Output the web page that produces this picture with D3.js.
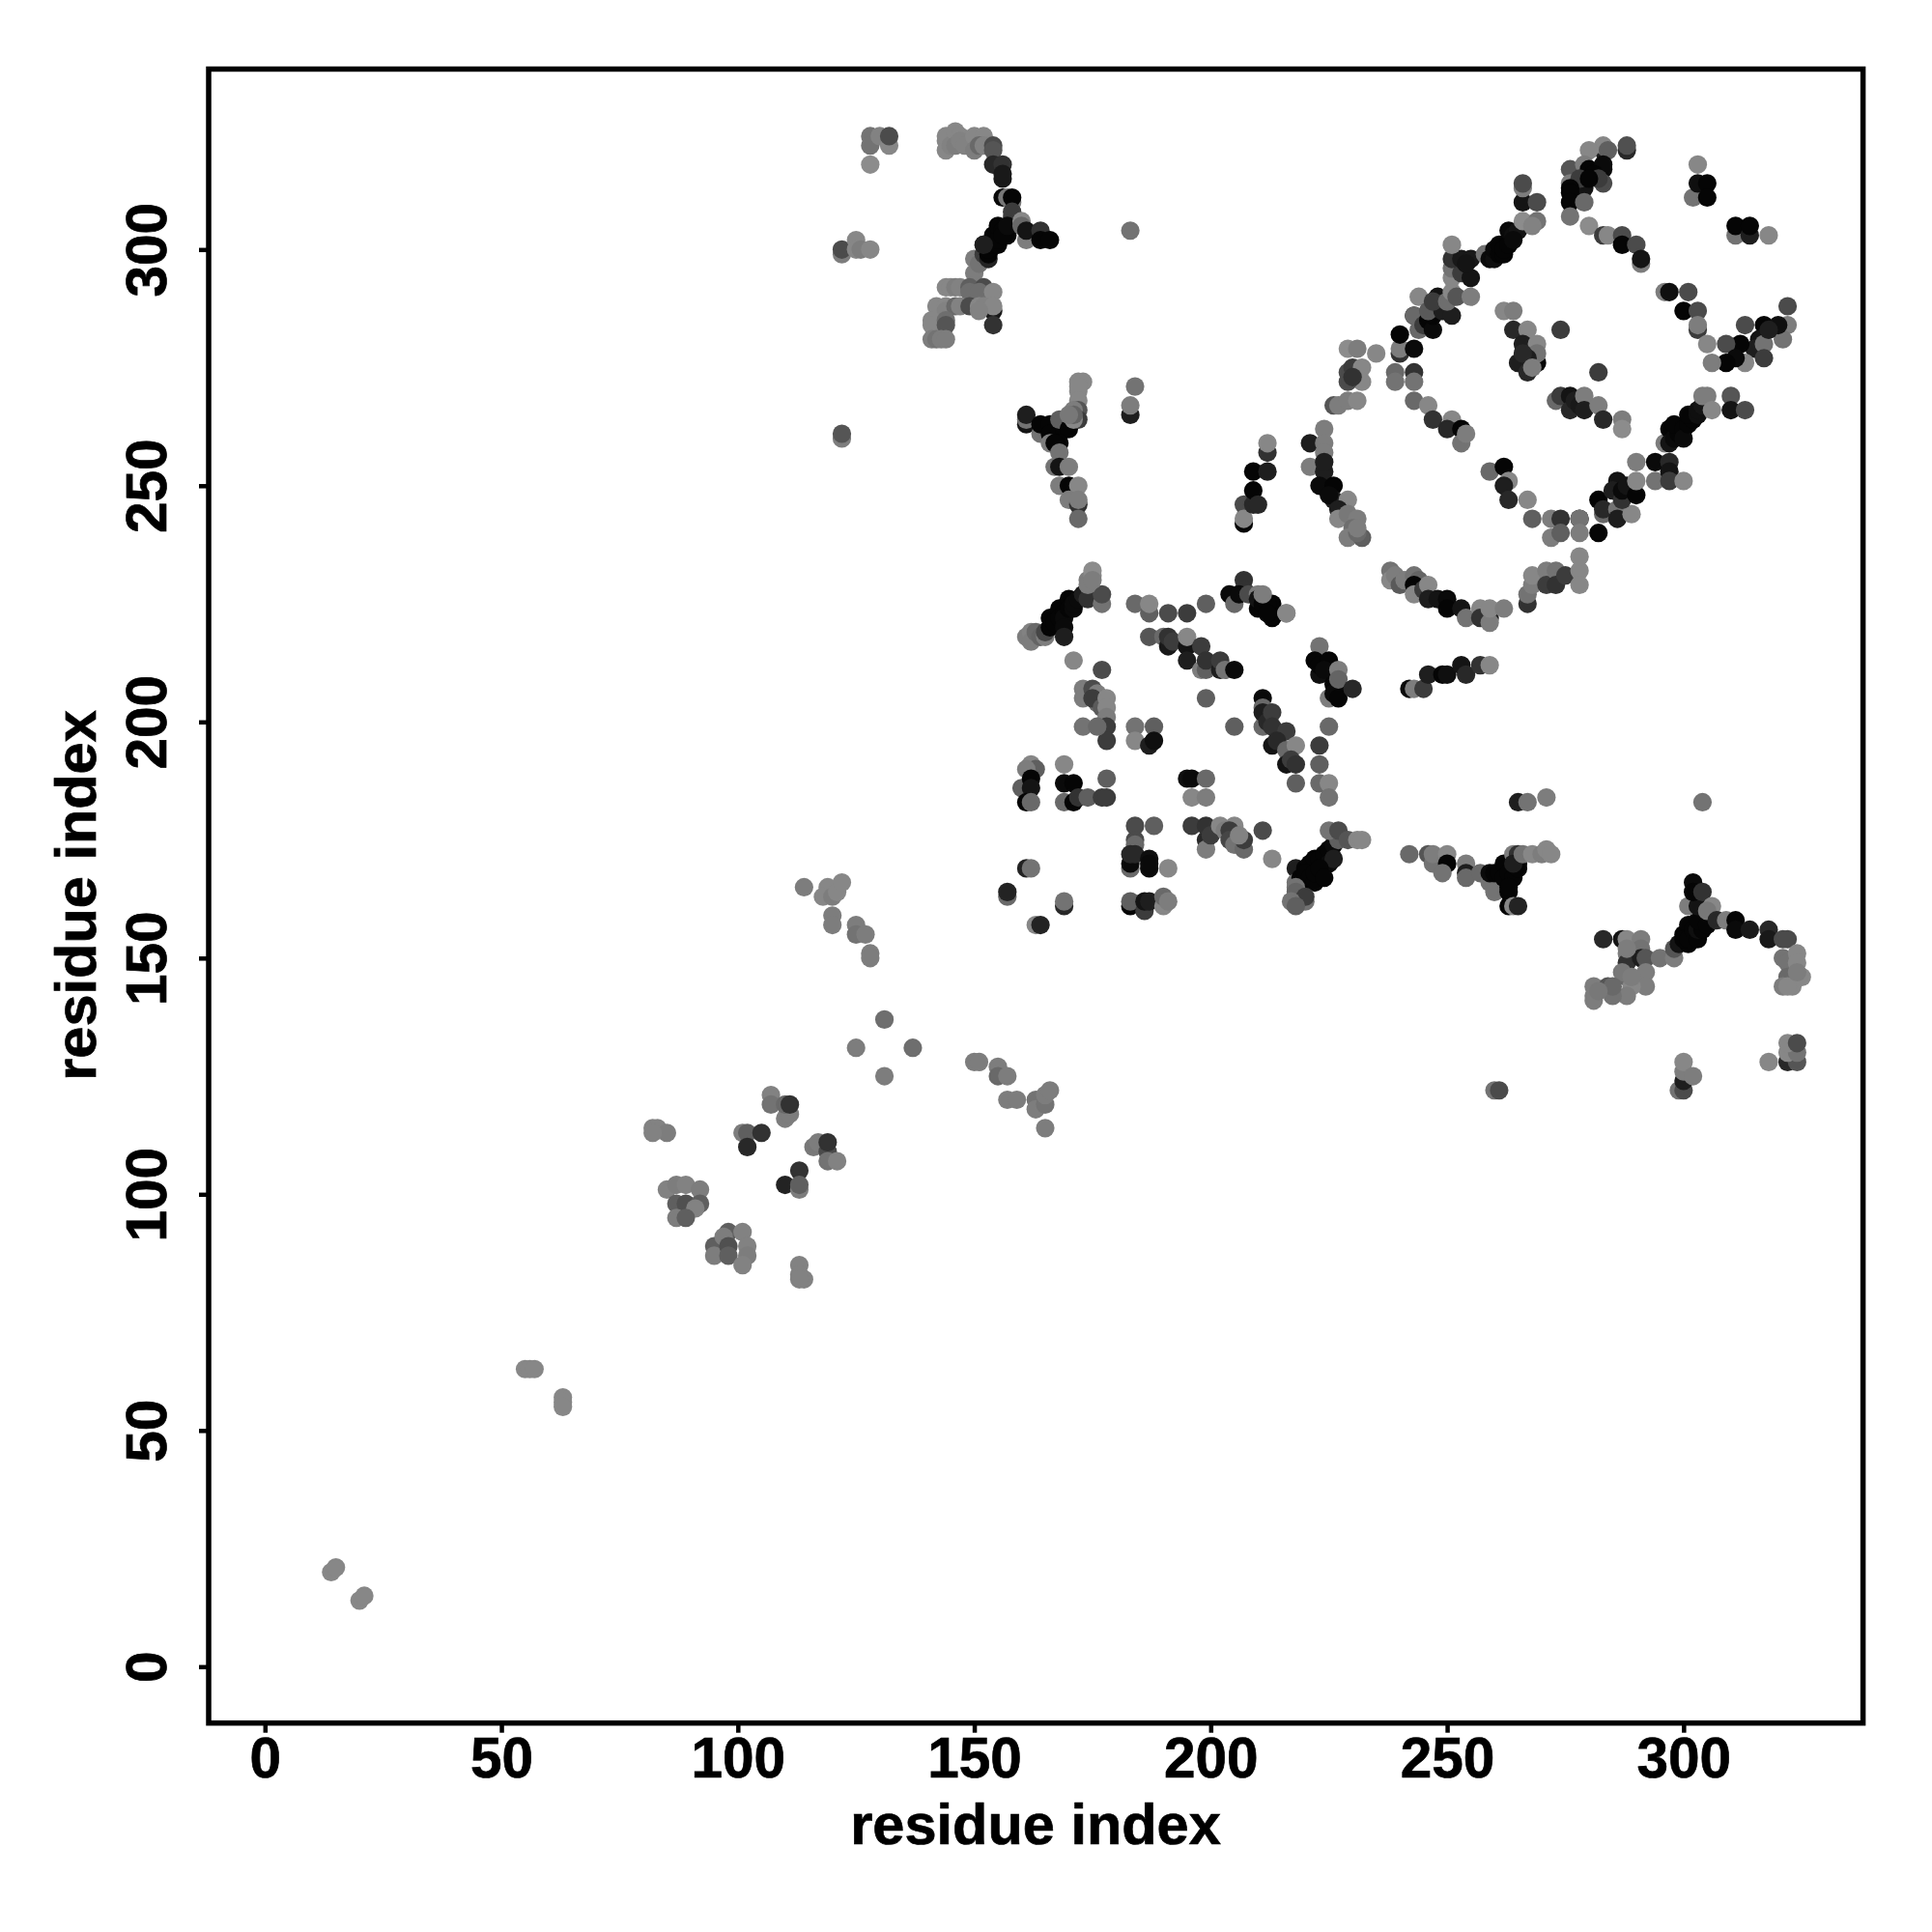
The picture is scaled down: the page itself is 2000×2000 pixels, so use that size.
<!DOCTYPE html>
<html>
<head>
<meta charset="utf-8">
<script src="https://cdn.jsdelivr.net/npm/d3@7"></script>
<style>
html,body{margin:0;padding:0;background:#fff}
svg{display:block}
text{font-family:"Liberation Sans",Arial,sans-serif;font-weight:700;fill:#000;stroke:#000;stroke-width:0.7px}
</style>
</head>
<body>
<div id="chart"></div>
<script>
// Each row: residue index on x, residue index on y, grey level of the point
const xTicks = [0,50,100,150,200,250,300];
const yTicks = [0,50,100,150,200,250,300];
const xLabel = "residue index";
const yLabel = "residue index";

const contactsLow = [[14,20,135],[15,21,135],[20,14,135],[21,15,135],[55,63,135],[56,63,135],[57,63,135],[63,57,135],[63,56,135],[63,55,135]];

const contactsNearDiagonal = [
[82,114,130],[83,114,130],[85,113,125],[82,113,130],
[85,101,130],[87,102,125],[89,102,130],[92,101,125],[87,98,95],[89,98,80],[92,98,95],[91,97,130],[87,95,125],[89,95,95],
[95,89,95],[95,87,125],[98,92,95],[101,92,130],[97,91,125],[98,89,80],[98,87,95],[102,89,130],[102,87,125],[101,85,130],
[113,85,130],[113,83,130],[114,82,130],[113,82,130],
[101,113,125],[102,113,95],[105,113,50],[102,110,40],
[107,121,130],[107,119,115],[110,116,125],[111,117,125],[110,119,105],[111,119,50],
[116,110,120],[117,111,125],[119,109,75],[119,111,50],[119,107,115],[121,107,130],
[110,102,35],[113,105,50],[113,101,125],[113,102,95],
[114,165,125],[119,165,135],[118,163,135],[120,163,125],[121,164,135],[122,166,135],[120,159,125],[120,157,125],[125,157,125],[125,155,115],[127,155,125],[128,151,125],[128,150,125],
[131,137,110],[125,131,125],[137,131,110],[131,125,125],
[150,128,125],[151,128,125],[155,127,125],[155,125,105],[157,125,125],[157,120,125],[159,120,125],[163,120,115],[163,118,125],[165,119,115],[165,121,125],[166,122,125],[165,114,125]
];

const contactsTopLeft = [
[128,324,115],[128,322,115],[130,324,130],[132,322,135],[132,324,75],[128,318,140],
[144,323,135],[144,324,135],[144,321,135],[145,322,130],[146,325,135],[146,322,125],[147,324,135],[147,323,130],[148,322,130],[150,324,135],[150,321,125],[152,324,135],[151,322,105],[152,322,130],[154,322,75],[154,321,85],
[154,318,40],[156,318,50],[156,315,25],[156,316,25],[156,311,10],[157,311,120],[158,310,120],[158,311,5],[158,307,60],[158,308,60],
[150,298,125],[150,295,125],[151,297,115],[152,299,60],[152,301,60],[153,298,35],[153,299,5],[153,300,5],[154,303,5],[154,301,5],[155,301,5],[155,302,5],[155,305,5],[156,304,5],[157,303,5],[156,303,5],[157,305,10],[152,301,30],
[160,306,135],[160,305,105],[161,302,125],[161,304,20],[164,304,50],[164,302,5],[166,302,5],
[122,299,125],[122,300,75],[125,302,135],[125,300,135],[126,300,125],[128,300,135],
[183,304,115],
[144,292,135],[145,292,135],[146,292,125],[147,292,130],[149,292,95],[149,291,110],[152,292,75],[151,291,110],[154,291,135],
[142,288,135],[144,288,135],[144,287,130],[146,288,105],[147,288,130],[149,288,75],[151,288,135],[152,288,130],[154,287,25],[154,284,50],[154,288,135],[151,287,130],
[141,285,135],[141,284,135],[144,285,110],[144,284,85],[141,281,125],[142,281,115],[143,281,125],[144,281,125]
];

const contactsMidLeft = [
[122,260,125],[122,261,85],[161,263,20],[161,264,115],[161,265,30],[164,261,115],[164,263,5],[166,263,5],[166,261,5],[167,260,5],[168,261,5],[169,262,5],[170,263,5],[168,264,95],[170,262,5],[166,259,125],[168,259,5],[167,259,5],
[172,272,135],[173,272,135],[172,270,135],[172,271,135],[172,268,135],[172,266,85],[171,266,125],[172,264,60],[171,264,135],[171,265,100],[170,265,120],
[168,257,115],[167,254,115],[168,254,20],[170,254,125],[168,250,125],[170,250,5],[172,250,135],[170,247,125],[172,246,50],[172,247,125],[172,243,105],
[183,265,30],[183,267,125],[184,271,115],
[161,218,125],[162,219,130],[162,217,125],[163,219,105],[164,218,100],[165,218,125],[165,219,70],[166,220,5],[166,222,5],[167,221,5],[168,224,5],[168,222,5],[169,223,5],[169,222,10],[169,220,10],[169,218,30],[170,226,5],[170,224,5],[171,224,10],[171,225,10],[172,226,10],[173,227,30],[174,226,50],[177,225,115],[177,227,75],[174,230,125],[175,231,135],[175,232,140],[174,229,125],[175,230,125],
[184,225,105],[187,223,95],[187,225,135],[191,223,75],[195,223,60],[199,225,95],
[171,213,135],[177,211,75],
[173,207,125],[173,205,125],[175,207,75],[176,206,125],[176,204,105],[175,205,60],[177,203,90],[178,205,135],[178,203,135],[178,201,125],[178,199,60],[178,196,60],[173,199,115],[176,199,105],
[184,199,115],[188,199,95],[184,196,135],[187,195,30],[188,196,15],
[162,191,135],[163,190,95],[161,190,125],[160,186,95],[162,188,5],[162,186,20],[161,183,5],[162,183,105],
[169,191,135],[169,187,10],[171,187,5],[169,183,105],[171,183,5],[172,184,50],[174,184,95],[177,184,60],[178,184,60],[178,188,95],
[195,188,15],[196,188,10],[199,188,105],[196,184,135],[199,184,125],
[184,178,75],[184,175,75],[188,178,95],[184,174,105],[183,169,105],[183,170,10],[183,172,40],[184,172,40],[187,171,15],[187,169,10],[187,170,10],[191,169,135],
[196,178,60],[199,175,40],[199,178,50],[199,173,125],[200,176,60],[202,178,135],[203,177,125],[205,178,135],[204,177,60],[204,175,70],[205,174,115],[207,173,105],[207,175,60],[206,176,130],[211,177,75],[213,171,135],
[161,169,35],[162,169,115],[157,163,105],[157,164,35],[169,161,40],[169,162,115],[163,157,135],[164,157,35],
[183,161,5],[183,162,95],[186,160,60],[186,162,20],[187,162,30],[190,161,135],[190,163,105],[191,162,125]
];

const contactsCentre = [
[187,218,85],[190,218,105],[191,216,25],[191,218,50],[192,217,60],[195,216,20],[195,218,135],[198,216,60],[195,213,30],[198,211,125],[199,211,95],[199,213,50],[202,211,30],[202,213,60],[203,211,115],[205,211,10],
[199,205,95],[205,199,95],
[211,199,105],[211,205,10],[211,203,105],[211,202,30],[212,200,40],[213,202,60],[213,199,50],[216,198,60],[213,195,20],[214,196,40],[216,194,105],[218,195,135],[216,191,20],[217,192,60],[218,191,50],[218,187,95],
[225,199,105],[223,195,60],[223,191,95],[223,187,105],[225,187,135],[225,184,115],
[207,230,50],[207,228,50],[204,227,10],[205,225,105],[206,227,10],[208,227,75],[210,227,125],[210,224,5],[210,226,20],[211,225,5],[213,225,5],[213,222,5],[212,223,5],[216,223,115],
[223,216,115],[222,213,5],[223,210,15],[223,212,5],[225,213,5],[224,211,10],[225,205,125],[226,208,5],[226,206,10],[227,207,10],[227,205,5],[227,211,125],[227,209,100],[230,207,40],
[218,169,30],[220,169,5],[221,170,5],[222,171,5],[223,171,5],[224,172,5],[225,173,5],[225,170,10],[226,174,10],[226,171,30],[227,175,95],[225,177,115],[227,177,75],[229,175,85],[231,175,135],[232,175,135],
[218,166,115],[219,167,5],[220,166,5],[220,168,5],[221,167,5],[222,166,5],[222,168,5],[223,169,5],[224,167,5],[218,165,115],[218,163,105],[218,164,100],[220,162,115],[220,163,60],[217,162,115],[218,161,95]
];

const contactsUpperArc = [
[207,246,75],[207,242,5],[207,243,135],[209,246,40],[209,249,5],[209,253,5],[210,246,40],[212,253,30],[212,257,50],[212,259,135],
[221,259,30],[224,262,125],[224,259,125],[224,257,125],[221,254,125],[224,253,30],[224,255,30],[223,250,10],[226,250,5],[226,247,30],[225,248,10],[229,247,135],[227,245,30],[227,243,135],[229,244,120],[231,243,125],[230,241,110],[229,239,125],[232,239,95],[231,240,105],[231,241,125],
[229,279,140],[231,279,125],[235,278,135],[229,274,75],[230,275,60],[232,275,135],[232,272,135],[229,272,75],[230,273,50],
[226,267,85],[227,267,125],[229,268,125],[231,268,135],
[239,274,105],[239,272,115],[243,274,50],[243,272,115],[240,278,50],[240,279,125],
[240,282,5],[243,279,10],[243,286,5],[244,283,105],[244,290,135],[243,286,105],[245,284,60],[246,285,5],[247,283,10],[247,286,5],[248,288,5],[246,287,90],[249,287,30],[251,286,30],[248,290,20],[247,289,60],[250,289,110],[251,291,135],[252,290,85],[255,290,125],
[251,294,135],[251,296,115],[253,295,60],[255,294,20],[251,298,50],[253,298,25],[255,298,25],[254,297,20],[251,301,135],
[258,299,115],[259,298,10],[260,298,15],[260,300,10],[261,299,5],[262,299,5],[261,301,5],[262,300,5],[263,302,5],[263,301,5],[263,304,10],[264,303,15],[265,304,20],[264,302,10],
[266,306,140],[269,306,115],[268,305,130],[266,310,20],[269,310,75],[266,313,125],[266,314,75]
];

const contactsInnerRing = [
[238,232,115],[238,230,135],[239,231,125],[240,229,90],[241,230,125],[243,231,115],[244,230,100],[243,229,5],[243,227,135],[245,228,60],[246,229,135],[246,226,30],[248,226,20],[250,226,10],[250,224,5],[253,224,20],[254,222,115],[257,224,135],[259,222,30],[257,222,50],[259,221,125],[259,224,135],[262,224,125],
[267,225,50],[267,227,115],[268,229,125],[268,231,135],[271,232,125],[271,229,60],[273,232,115],[273,229,50],[275,231,60],[278,232,135],[278,229,135],[278,235,135],
[212,225,5],[211,227,125],[212,223,5],[216,223,135],
[242,207,10],[243,207,125],[245,207,60],[246,210,30],[249,210,5],[250,210,15],[253,212,20],[254,210,40],[257,212,50],[259,212,135],
[243,268,105],[246,267,135],[247,264,50],[251,264,135],[250,262,40],[253,262,5],[253,259,115],[254,261,125],
[262,287,135],[264,287,125],[264,283,40],[267,283,135],[266,280,30],[269,280,135],[269,276,5],[269,278,115],[265,276,30],[267,277,30],[266,278,40],[267,274,40],[268,275,125],[274,283,60],[282,274,60],
[273,268,105],[274,269,60],[276,269,20],[276,266,40],[277,268,30],[278,267,25],[279,269,125],[279,266,30],[282,267,125],[283,264,40],[287,264,125],[287,262,140],
[259,253,105],[262,254,5],[263,251,135],[262,250,30],[263,247,40],[267,247,135],[268,243,95],[272,243,125],[274,243,50],[272,239,125],[274,240,95],
[278,243,5],[278,243,115],[278,240,125],[282,240,5],[282,247,5],[283,244,105],[283,245,40],[286,245,115],[286,243,30],[289,244,135],[286,251,20],[285,249,30],[287,247,50],[287,249,10],[288,250,20],[290,248,5],[290,251,135],[290,255,125],[294,255,10],[294,251,115],[297,255,40],[297,253,20],[297,251,60],[300,251,135],
[296,259,125],[297,262,5],[297,259,20],[298,260,10],[299,261,5],[298,263,5],[300,262,5],[300,260,10],[301,263,5],[302,264,5],[301,265,5],[303,265,15],[303,266,15],[304,267,20],[305,269,125],[304,269,125],[306,266,135],[310,269,85],[310,266,20],[313,266,75]
];

const contactsTopRight = [
[288,321,40],[288,322,80],[283,321,30],[283,322,135],[284,321,95],[280,321,135],[276,317,85],[279,318,125],[280,317,5],[283,317,10],[283,318,10],[283,314,75],[276,314,125],[279,313,20],[278,315,60],[281,316,5],[282,315,60],[280,315,5],[276,313,5],[276,312,5],[276,310,5],[276,307,115],[279,310,105],
[280,305,140],[283,303,60],[284,303,135],[287,303,75],[287,301,5],[290,301,75],[291,297,125],[291,298,20],
[303,318,135],[302,311,115],[303,314,15],[305,314,5],[305,311,5],[311,303,115],[311,305,5],[314,303,30],[314,305,5],[318,303,135],
[296,291,125],[297,291,15],[301,291,75],[300,287,5],[303,287,75],[303,283,60],[303,284,125],[305,280,135],
[322,288,75],[322,284,125],[321,281,115],[317,284,5],[320,284,15],[313,284,75],[316,281,20],[315,279,30],[317,280,115],[318,283,30],[312,280,5],[309,280,75],[317,277,60],[313,276,135],[311,277,10],[309,276,5],[306,276,125]
];

const contactsLowerRight = [
[242,172,105],[246,172,85],[247,170,115],[247,172,125],[250,172,135],[250,170,5],[249,168,115],[254,170,125],[254,168,30],[254,167,105],[257,168,105],[259,166,115],[259,168,10],[260,168,5],
[260,164,115],[261,168,5],[262,170,5],[263,166,5],[262,167,5],[263,168,5],[264,167,5],[263,164,5],[263,165,5],[263,161,5],[264,161,135],[265,161,35],[264,172,125],[265,172,50],[265,170,20],[265,169,5],[264,170,30],[266,172,115],[268,172,135],[270,172,125],[271,173,135],[272,172,135],
[265,183,30],[267,183,115],[271,184,125],[304,183,115],
[260,122,115],[261,122,75],
[283,154,40],[287,154,20],[288,154,135],[291,154,125],[288,151,125],[288,149,50],[288,146,105],[291,152,115],[291,150,30],[292,150,85],[292,147,125],[292,144,125],[289,144,135],[288,142,125],[287,147,120],[288,152,125],[289,146,125],
[281,144,125],[281,142,125],[281,141,125],[284,144,85],[285,142,115],[285,144,105],[282,143,120],
[295,150,115],[298,150,125],[298,152,85],[299,153,20],[300,155,5],[301,153,5],[301,157,5],[302,155,5],[300,154,5],[301,154,5],[302,156,5],[303,154,5],[303,156,15],[304,156,5],[303,158,5],[305,157,5],[301,161,125],[303,161,20],[302,166,10],[302,164,5],[304,164,50],[306,161,135],[305,160,120],[307,158,40],
[309,158,125],[311,158,5],[311,156,10],[314,156,25],[318,156,40],[318,154,25],[321,154,75],[322,154,75],
[321,150,115],[322,149,115],[324,151,135],[324,149,135],[322,146,105],[325,146,135],[321,144,125],[323,144,135],[322,144,135],[324,147,125],
[299,122,115],[300,122,75],[300,124,30],[300,126,125],[300,128,135],[302,125,125],
[318,128,135],[322,128,40],[324,128,85],[322,130,135],[324,130,115],[322,132,135],[324,132,75]
];

const allContacts = [contactsLow, contactsNearDiagonal, contactsTopLeft, contactsMidLeft, contactsCentre, contactsUpperArc, contactsInnerRing, contactsTopRight, contactsLowerRight].flat();

const width = 2000, height = 2000;
const svg = d3.select("#chart").append("svg").attr("width", width).attr("height", height);

const x = d3.scaleLinear().domain([-11.91, 337.95]).range([216, 1928.6]);
const y = d3.scaleLinear().domain([-11.94, 338.2]).range([1783.7, 71.5]);

svg.append("g").selectAll("circle").data(allContacts).join("circle")
  .attr("cx", d => x(d[0])).attr("cy", d => y(d[1])).attr("r", 9.6)
  .attr("fill", d => d3.rgb(d[2], d[2], d[2]));

svg.append("rect").attr("x", 216).attr("y", 71.5).attr("width", 1712.6).attr("height", 1712.2)
  .attr("fill", "none").attr("stroke", "#000").attr("stroke-width", 5.5);

const xAxis = svg.append("g").attr("transform", "translate(0,1783.7)")
  .call(d3.axisBottom(x).tickValues(xTicks).tickSize(10).tickPadding(0).tickFormat(d3.format("d")));
xAxis.select(".domain").remove();
xAxis.selectAll("line").attr("stroke", "#000").attr("stroke-width", 4.5);
xAxis.selectAll("text").attr("dy", null).attr("y", 56).style("font-size", "58.5px").attr("text-anchor", "middle");

const yAxis = svg.append("g").attr("transform", "translate(216,0)")
  .call(d3.axisLeft(y).tickValues(yTicks).tickSize(10).tickPadding(0).tickFormat(d3.format("d")));
yAxis.select(".domain").remove();
yAxis.selectAll("line").attr("stroke", "#000").attr("stroke-width", 4.5);
yAxis.selectAll("text").attr("dy", null).attr("x", null)
  .attr("transform", "translate(-44,0) rotate(-90)").attr("text-anchor", "middle").style("font-size", "58.5px");

svg.append("text").attr("x", 1072).attr("y", 1909).attr("text-anchor", "middle").style("font-size", "59.5px").text(xLabel);
svg.append("text").attr("transform", "translate(99,927) rotate(-90)").attr("text-anchor", "middle").style("font-size", "59.5px").text(yLabel);
</script>
</body>
</html>
